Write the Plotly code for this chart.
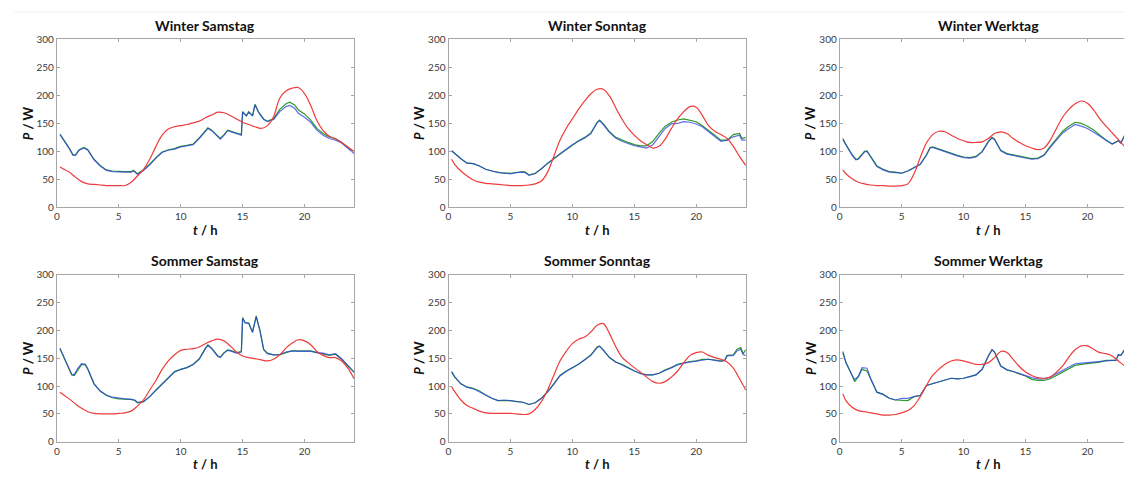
import plotly.graph_objects as go

# ---------------- data ----------------
titles = ["Winter Samstag", "Winter Sonntag", "Winter Werktag",
          "Sommer Samstag", "Sommer Sonntag", "Sommer Werktag"]
x_ticks = [0, 5, 10, 15, 20]
y_ticks = [0, 50, 100, 150, 200, 250, 300]

# common time grid for the red (smooth) profiles
red_t = [0.25, 0.5, 1, 1.5, 2, 2.5, 3, 3.5, 4, 4.5, 5, 5.5, 6, 6.5, 7, 7.5, 8, 8.5, 9, 9.5,
         10, 10.5, 11, 11.5, 12, 12.5, 13, 13.5, 14, 14.5, 15, 15.5, 16, 16.5, 17, 17.5,
         18, 18.5, 19, 19.5, 20, 20.5, 21, 21.5, 22, 22.5, 23, 23.5, 24]

ws_red = [72, 69, 63, 54, 46, 42, 41, 40, 39, 39, 39, 39, 45, 56, 68, 86, 109, 129, 140, 144,
          146, 148, 151, 154, 160, 165, 170, 169, 164, 158, 152, 148, 144, 141, 146, 162,
          195, 208, 213, 214, 203, 182, 155, 137, 127, 122, 116, 108, 100]
wso_red = [86, 77, 65, 56, 49, 45, 43, 42, 41, 40, 39, 39, 39, 40, 42, 47, 63, 91, 120, 141,
           158, 175, 190, 203, 211, 211, 199, 178, 158, 141, 129, 119, 112, 106, 109, 122,
           141, 158, 171, 180, 179, 164, 146, 136, 130, 123, 109, 91, 75]
ww_red = [67, 60, 51, 45, 42, 40, 39, 39, 38, 38, 39, 42, 60, 89, 115, 130, 136, 135, 129, 123,
          119, 116, 116, 117, 123, 132, 135, 132, 123, 116, 110, 106, 103, 106, 120, 141,
          161, 175, 185, 190, 186, 174, 158, 145, 133, 121, 109, 100, 95]
ss_red = [89, 85, 77, 68, 60, 54, 51, 50, 50, 50, 51, 52, 55, 64, 75, 93, 110, 130, 145, 156,
          164, 166, 167, 170, 176, 181, 184, 181, 172, 161, 154, 151, 149, 147, 145, 148,
          156, 168, 177, 183, 181, 174, 162, 155, 151, 151, 145, 132, 113]
sso_red = [99, 90, 75, 65, 60, 55, 52, 51, 51, 51, 51, 50, 49, 50, 58, 72, 93, 119, 145, 162,
           176, 184, 188, 197, 209, 212, 194, 171, 152, 142, 133, 125, 116, 108, 105, 108,
           116, 127, 142, 155, 160, 161, 155, 151, 148, 143, 132, 113, 93]
sw_red = [86, 74, 62, 56, 54, 52, 50, 48, 48, 49, 52, 56, 65, 81, 101, 119, 130, 139, 145, 147,
          145, 142, 139, 139, 142, 151, 162, 160, 148, 135, 125, 119, 115, 114, 116, 125,
          136, 152, 165, 172, 172, 166, 160, 158, 154, 145, 136, 128, 122]

# Winter Samstag (green / blue)
ws_t = [0.25, 0.5, 1.0, 1.3, 1.5, 1.8, 2.2, 2.5, 3, 3.5, 4, 4.5, 5, 5.5, 6, 6.2, 6.5,
        7, 7.5, 8, 8.5, 9, 9.5, 10, 10.5, 11, 11.5, 12, 12.2, 12.5, 13, 13.2, 13.5, 13.8,
        14.2, 14.5, 14.9, 15.0, 15.3, 15.5, 15.8, 16.0, 16.3, 16.7, 17, 17.5, 18, 18.5,
        18.8, 19.2, 19.5, 20, 20.5, 21, 21.5, 22, 22.5, 23, 23.5, 24]
ws_green = [131, 123, 106, 94, 94, 103, 107, 103, 86, 75, 67, 65, 64, 64, 64, 66, 60,
            67, 77, 89, 99, 103, 105, 109, 111, 113, 124, 138, 142, 138, 126, 123, 130, 138,
            135, 133, 130, 171, 164, 171, 164, 184, 170, 158, 154, 158, 175, 185,
            188, 183, 174, 167, 156, 141, 132, 126, 123, 116, 107, 99]
ws_blue = [130, 122, 105, 93, 93, 102, 106, 102, 85, 74, 66, 64, 63, 63, 63, 65, 59,
           66, 76, 88, 98, 102, 104, 108, 110, 112, 123, 137, 141, 137, 125, 122, 129, 137,
           134, 132, 129, 170, 163, 170, 163, 183, 169, 157, 153, 157, 171, 180,
           182, 177, 168, 161, 152, 138, 129, 123, 120, 115, 106, 96]

# Winter Sonntag
wso_t = [0.25, 0.5, 1, 1.5, 2, 2.5, 3, 3.5, 4, 4.5, 5, 5.5, 6, 6.2, 6.5, 7, 7.5, 8, 8.5,
         9, 9.5, 10, 10.5, 11, 11.5, 12, 12.2, 12.5, 13, 13.5, 14, 14.5, 15, 15.5, 16, 16.5,
         17, 17.5, 18, 18.5, 19, 19.5, 20, 20.5, 21, 21.5, 22, 22.5, 23, 23.5, 23.7, 24]
wso_green = [101, 96, 87, 79, 78, 74, 68, 65, 63, 61, 61, 63, 64, 63, 58, 61, 69, 79, 87,
             96, 104, 112, 119, 125, 133, 152, 156, 149, 135, 125, 120, 116, 112, 110, 110, 118,
             132, 145, 152, 156, 158, 155, 153, 146, 138, 129, 120, 120, 130, 132, 123, 125]
wso_blue = [101, 96, 87, 79, 78, 74, 68, 65, 62, 61, 60, 62, 63, 62, 57, 60, 69, 79, 87,
            96, 104, 112, 118, 124, 132, 151, 155, 148, 134, 124, 118, 114, 110, 108, 106, 112,
            126, 141, 149, 150, 153, 152, 149, 144, 135, 126, 118, 120, 126, 129, 120, 120]

# Winter Werktag
ww_t = [0.25, 0.5, 1, 1.3, 1.5, 2, 2.2, 2.5, 3, 3.5, 4, 4.5, 5, 5.5, 6, 6.5, 7, 7.3, 7.5, 8,
        8.5, 9, 9.5, 10, 10.5, 11, 11.5, 12, 12.3, 12.5, 13, 13.5, 14, 14.5, 15, 15.5, 16,
        16.5, 17, 17.5, 18, 18.5, 19, 19.5, 20, 20.5, 21, 21.5, 22, 22.5, 22.7, 23, 23.5, 24]
ww_green = [123, 112, 94, 86, 87, 100, 101, 91, 74, 68, 64, 63, 61, 65, 71, 77, 94, 107, 108, 104,
            100, 96, 93, 90, 89, 91, 100, 118, 125, 122, 102, 96, 94, 91, 89, 87, 88,
            94, 109, 123, 136, 145, 152, 150, 145, 138, 129, 120, 113, 119, 115, 129, 132, 132]
ww_blue = [121, 111, 93, 85, 86, 99, 100, 90, 73, 67, 63, 62, 61, 65, 71, 77, 93, 106, 107, 103,
           99, 95, 92, 89, 88, 90, 99, 117, 124, 121, 101, 95, 93, 90, 88, 86, 87,
           93, 107, 121, 133, 141, 148, 145, 141, 134, 127, 119, 113, 119, 115, 127, 130, 130]

# Sommer Samstag
ss_t = [0.25, 0.5, 1, 1.2, 1.4, 1.7, 2, 2.3, 2.5, 3, 3.5, 4, 4.5, 5, 5.5, 6, 6.3, 6.5, 7, 7.5,
        8, 8.5, 9, 9.5, 10, 10.5, 11, 11.5, 12, 12.2, 12.5, 13, 13.2, 13.5, 13.8, 14, 14.5,
        14.9, 15.0, 15.2, 15.5, 15.8, 16.1, 16.4, 16.7, 17, 17.5, 18, 18.5, 19, 19.5, 20,
        20.5, 21, 21.5, 22, 22.5, 23, 23.5, 24]
ss_green = [167, 154, 130, 120, 119, 130, 139, 138, 130, 104, 91, 83, 79, 77, 76, 76, 74, 70, 72, 81,
            93, 104, 116, 126, 130, 133, 139, 149, 168, 174, 168, 154, 152, 160, 165, 164, 160,
            162, 223, 214, 213, 197, 226, 200, 166, 159, 156, 156, 160, 163, 163, 163,
            163, 160, 158, 155, 157, 148, 136, 125]
ss_blue = [168, 155, 131, 121, 120, 132, 140, 139, 131, 104, 91, 84, 80, 78, 77, 76, 75, 71, 72, 81,
           92, 103, 115, 125, 130, 133, 138, 148, 167, 173, 167, 153, 151, 159, 164, 163, 159,
           161, 221, 213, 212, 196, 224, 199, 165, 158, 156, 157, 161, 163, 162, 162,
           162, 160, 159, 156, 158, 149, 137, 125]

# Sommer Sonntag
sso_t = [0.25, 0.5, 1, 1.5, 2, 2.5, 3, 3.5, 4, 4.5, 5, 5.5, 6, 6.5, 7, 7.5, 8, 8.5, 9, 9.5,
         10, 10.5, 11, 11.5, 12, 12.2, 12.5, 13, 13.5, 14, 14.5, 15, 15.5, 16, 16.5, 17, 17.5,
         18, 18.5, 19, 19.5, 20, 20.5, 21, 21.5, 22, 22.3, 22.5, 23, 23.3, 23.6, 23.8, 24]
sso_green = [125, 116, 104, 98, 96, 91, 84, 78, 74, 74, 74, 72, 71, 67, 70, 78, 90, 104, 119, 127,
             133, 139, 147, 156, 170, 172, 165, 151, 143, 139, 133, 127, 123, 120, 120, 123, 129,
             133, 139, 142, 144, 145, 148, 148, 147, 145, 146, 155, 156, 166, 169, 158, 165]
sso_blue = [126, 117, 104, 98, 95, 90, 84, 78, 74, 75, 74, 72, 71, 67, 70, 78, 89, 103, 118, 126,
            132, 139, 147, 155, 169, 171, 164, 151, 143, 138, 133, 127, 122, 120, 120, 123, 128,
            133, 138, 141, 143, 145, 147, 148, 146, 144, 146, 154, 155, 163, 166, 156, 155]

# Sommer Werktag
sw_t = [0.25, 0.5, 1, 1.2, 1.5, 1.8, 2.2, 2.5, 3, 3.5, 4, 4.5, 5, 5.5, 6, 6.5, 7, 7.5, 8, 8.5,
        9, 9.5, 10, 10.5, 11, 11.5, 12, 12.3, 12.5, 13, 13.5, 14, 14.5, 15, 15.5, 16, 16.5, 17,
        17.5, 18, 18.5, 19, 19.5, 20, 20.5, 21, 21.5, 22, 22.3, 22.5, 22.7, 23, 23.5, 24]
sw_green = [162, 142, 119, 108, 117, 130, 127, 113, 89, 85, 78, 75, 74, 74, 81, 83, 101, 104, 107, 110,
            114, 113, 114, 117, 120, 130, 154, 165, 161, 136, 129, 126, 122, 118, 112, 110, 110, 113,
            119, 125, 132, 137, 139, 140, 142, 143, 146, 146, 146, 156, 155, 165, 168, 170]
sw_blue = [159, 142, 119, 112, 117, 133, 132, 113, 89, 85, 78, 75, 78, 78, 81, 83, 101, 104, 107, 110,
           114, 113, 114, 117, 120, 130, 154, 165, 161, 136, 129, 126, 122, 118, 115, 113, 113, 116,
           122, 127, 134, 140, 141, 142, 144, 145, 146, 146, 146, 156, 155, 165, 168, 170]

# ---------------- figure ----------------
W, H = 1124, 477
RED, GREEN, BLUE = "#ee3b3b", "#2e9a2e", "#2a3fe0"
AXC = "#a6a6a6"
FONT = "Lato"

panels = [
    (ws_t, ws_green, ws_blue, ws_red),
    (wso_t, wso_green, wso_blue, wso_red),
    (ww_t, ww_green, ww_blue, ww_red),
    (ss_t, ss_green, ss_blue, ss_red),
    (sso_t, sso_green, sso_blue, sso_red),
    (sw_t, sw_green, sw_blue, sw_red),
]

col_px = [(54, 352), (446.7, 745), (839, 1124)]
row_px = [(33.3, 206), (275, 447)]
px_per_h = (352 - 54) / 24.0

fig = go.Figure()
layout = {}
for i, (t, g, b, r) in enumerate(panels):
    n = i + 1
    row, col = divmod(i, 3)
    xs = "x" if n == 1 else f"x{n}"
    ys = "y" if n == 1 else f"y{n}"
    fig.add_trace(go.Scatter(x=t, y=g, mode="lines", line=dict(color=GREEN, width=1.2),
                             xaxis=xs, yaxis=ys, showlegend=False))
    fig.add_trace(go.Scatter(x=t, y=b, mode="lines", line=dict(color=BLUE, width=1.2),
                             opacity=0.75, xaxis=xs, yaxis=ys, showlegend=False))
    fig.add_trace(go.Scatter(x=red_t, y=r, mode="lines", line=dict(color=RED, width=1.2, shape="spline"),
                             xaxis=xs, yaxis=ys, showlegend=False))
    x0, x1 = col_px[col]
    y0, y1 = row_px[row]
    xmax = (x1 - x0) / px_per_h
    xk = "xaxis" if n == 1 else f"xaxis{n}"
    yk = "yaxis" if n == 1 else f"yaxis{n}"
    layout[xk] = dict(domain=[x0 / W, x1 / W], range=[0, xmax], anchor=ys,
                      tickvals=x_ticks, ticks="inside", ticklen=3, tickcolor=AXC,
                      showline=True, linecolor=AXC, linewidth=1, mirror="ticks",
                      showgrid=False, zeroline=False,
                      tickfont=dict(family=FONT, size=10, color="#3a3a3a"))
    layout[yk] = dict(domain=[1 - y1 / H, 1 - y0 / H], range=[0, 300], anchor=xs,
                      tickvals=y_ticks, ticks="inside", ticklen=3, tickcolor=AXC,
                      showline=True, linecolor=AXC, linewidth=1,
                      mirror=("ticks" if col < 2 else False),
                      showgrid=False, zeroline=False,
                      tickfont=dict(family=FONT, size=10, color="#3a3a3a"))

annotations = []
for i, title in enumerate(titles):
    row, col = divmod(i, 3)
    x0, x1 = col_px[col]
    y0, y1 = row_px[row]
    full_x1 = x0 + 24 * px_per_h
    cx = (x0 + full_x1) / 2
    annotations.append(dict(text="<b>" + title + "</b>", x=cx / W, y=1 - (y0 - 14) / H,
                            xref="paper", yref="paper", showarrow=False,
                            xanchor="center", yanchor="middle",
                            font=dict(family=FONT, size=14, color="#111111")))
    annotations.append(dict(text="<b><i>t</i> / h</b>", x=cx / W, y=1 - (y1 + 23) / H,
                            xref="paper", yref="paper", showarrow=False,
                            xanchor="center", yanchor="middle",
                            font=dict(family=FONT, size=13, color="#111111")))
    annotations.append(dict(text="<b><i>P</i> / W</b>", x=(x0 - 29) / W, y=1 - ((y0 + y1) / 2) / H,
                            xref="paper", yref="paper", showarrow=False, textangle=-90,
                            xanchor="center", yanchor="middle",
                            font=dict(family=FONT, size=13, color="#111111")))

fig.update_layout(
    width=W, height=H,
    margin=dict(l=0, r=0, t=0, b=0),
    paper_bgcolor="white", plot_bgcolor="white",
    annotations=annotations,
    shapes=[dict(type="line", xref="paper", yref="paper", x0=0.01, x1=1, y0=1 - 5 / H, y1=1 - 5 / H,
                 line=dict(color="#efefef", width=1))],
    **layout,
)

fig.write_html("out.html")
